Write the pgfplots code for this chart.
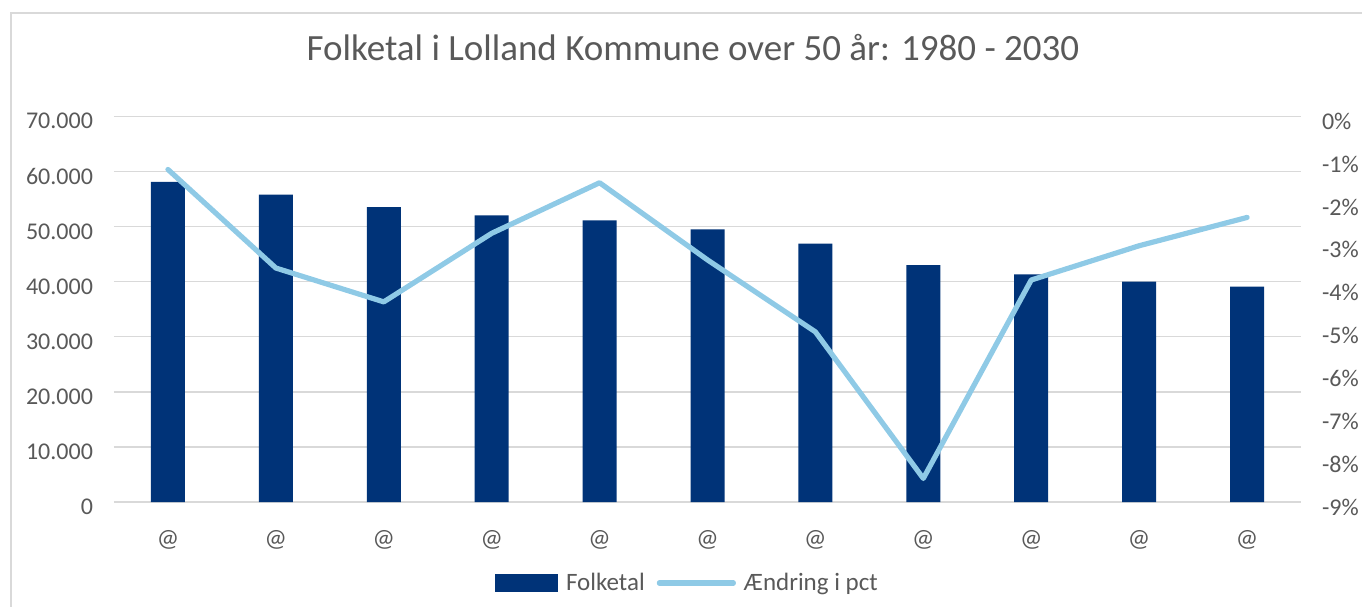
\documentclass[border=0pt]{standalone}
\usepackage{pgfplots}
\usepackage{pgfplotstable}
\pgfplotsset{compat=1.18}
\usepackage{fontspec}
\setmainfont{Carlito}
\definecolor{barblue}{RGB}{0,51,120}
\definecolor{lineblue}{RGB}{143,202,230}
\definecolor{txtgray}{RGB}{89,89,89}
\definecolor{gridgray}{RGB}{217,217,217}

\pgfplotstableread{
x pop pct
0 58100 -1.24
1 55800 -3.54
2 53500 -4.33
3 52000 -2.73
4 51100 -1.55
5 49500 -3.35
6 46900 -5.03
7 43000 -8.45
8 41300 -3.82
9 40000 -3.02
10 39100 -2.36
}\data

\begin{document}
\begin{tikzpicture}[x=1pt,y=1pt]
\useasboundingbox (-57,-52) rectangle (624,251);
\draw[gridgray, line width=0.9pt] (-51.5,-60) -- (-51.5,244.5) -- (640,244.5);
\node[txtgray, font=\fontsize{18.5}{22}\selectfont] at (289.5,227) {Folketal i Lolland Kommune over 50 år: 1980 - 2030};

\begin{axis}[
  at={(0pt,0pt)}, anchor=south west, scale only axis,
  width=593.5pt, height=192.85pt,
  xmin=-0.5, xmax=10.5, ymin=0, ymax=70000,
  scaled y ticks=false,
  axis line style={draw=none}, tick style={draw=none},
  ytick={0,10000,20000,30000,40000,50000,60000,70000},
  yticklabels={0,10.000,20.000,30.000,40.000,50.000,60.000,70.000},
  xtick={0,1,2,3,4,5,6,7,8,9,10},
  xticklabels={@,@,@,@,@,@,@,@,@,@,@},
  ymajorgrids, grid style={gridgray, line width=0.75pt},
  yticklabel style={font=\fontsize{12}{14}\selectfont, text=txtgray, xshift=-7pt, yshift=-2.5pt},
  xticklabel style={font=\fontsize{12.5}{14}\selectfont, text=txtgray, anchor=center, yshift=-19pt},
]
\addplot[ybar, bar width=17pt, fill=barblue, draw=none] table[x=x,y=pop]{\data};
\end{axis}

\begin{axis}[
  at={(0pt,0pt)}, anchor=south west, scale only axis,
  width=593.5pt, height=192.85pt,
  xmin=-0.5, xmax=10.5, ymin=-9, ymax=0,
  axis line style={draw=none}, tick style={draw=none},
  xtick=\empty,
  yticklabel pos=right,
  ytick={-9,-8,-7,-6,-5,-4,-3,-2,-1,0},
  yticklabels={-9\%,-8\%,-7\%,-6\%,-5\%,-4\%,-3\%,-2\%,-1\%,0\%},
  yticklabel style={font=\fontsize{12}{14}\selectfont, text=txtgray, xshift=7pt, yshift=-2.5pt},
  legend style={at={(0.4857,-0.21)}, anchor=center, draw=none, fill=none,
    font=\fontsize{12.5}{14}\selectfont, text=txtgray,
    nodes={inner xsep=4pt},
    /tikz/every even column/.append style={column sep=2pt}},
  legend columns=2, legend cell align=left,
]
\addlegendimage{legend image code/.code={\fill[barblue] (0pt,-4.25pt) rectangle (31pt,4.25pt);}}
\addplot[lineblue, line width=2.6pt, line cap=round, line join=round,
  legend image code/.code={\draw[lineblue, line width=2.6pt, line cap=round] (1pt,0pt) -- (38pt,0pt);}]
  table[x=x,y=pct]{\data};
\legend{Folketal,Ændring i pct}
\end{axis}
\end{tikzpicture}
\end{document}
